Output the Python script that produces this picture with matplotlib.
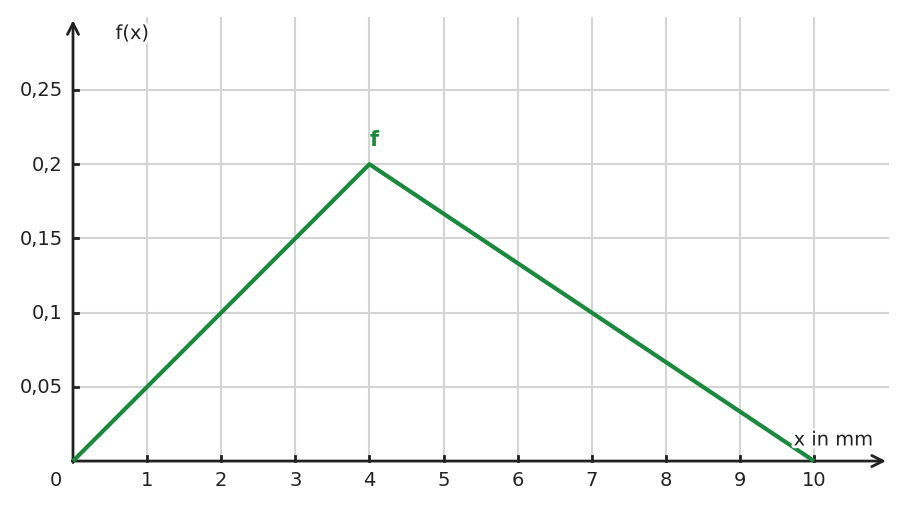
import matplotlib.pyplot as plt
import matplotlib.patheffects as pe

# triangular density f on [0, 10] with peak at 4
x_pts = [0, 4, 10]
f_vals = [0, 0.2, 0]
x_ticks = [1, 2, 3, 4, 5, 6, 7, 8, 9, 10]
y_ticks = [0.05, 0.1, 0.15, 0.2, 0.25]
y_labels = ["0,05", "0,1", "0,15", "0,2", "0,25"]

GREEN = "#178a3c"
DARK = "#222222"
GRID = "#d4d4d4"
FS = 14

plt.rcParams["font.family"] = ["DejaVu Sans"]

fig = plt.figure(figsize=(9.06, 5.10), dpi=100)
ax = fig.add_axes([0, 0, 1, 1])
ax.set_xlim(-0.985, 11.24)
ax.set_ylim(-0.0323, 0.3113)
ax.axis("off")

# grid
ax.vlines(x_ticks, 0, 0.2995, color=GRID, linewidth=1.5, zorder=1)
ax.hlines(y_ticks, 0, 11.01, color=GRID, linewidth=1.5, zorder=1)

# axes with arrows
ax.annotate("", xy=(10.97, 0), xytext=(-0.01, 0),
            arrowprops=dict(arrowstyle="->", color=DARK, lw=2.0,
                            mutation_scale=20, shrinkA=0, shrinkB=0), zorder=3)
ax.annotate("", xy=(0, 0.297), xytext=(0, -0.001),
            arrowprops=dict(arrowstyle="->", color=DARK, lw=2.0,
                            mutation_scale=20, shrinkA=0, shrinkB=0), zorder=3)

# ticks
for xt in x_ticks:
    ax.plot([xt, xt], [0, 0.0035], color=DARK, lw=2.0, zorder=3)
    ax.text(xt, -0.0125, str(xt), ha="center", va="center", fontsize=FS, color=DARK)
for yt, lab in zip(y_ticks, y_labels):
    ax.plot([0, 0.065], [yt, yt], color=DARK, lw=2.0, zorder=3)
    ax.text(-0.14, yt, lab, ha="right", va="center", fontsize=FS, color=DARK)
ax.text(-0.23, -0.0125, "0", ha="center", va="center", fontsize=FS, color=DARK)

# density
ax.plot(x_pts, f_vals, color=GREEN, lw=3.0, zorder=4, solid_capstyle="butt")
ax.text(4.06, 0.217, "f", ha="center", va="center", fontsize=15,
        fontweight="bold", color=GREEN, zorder=5)

# axis labels
halo = [pe.withStroke(linewidth=4, foreground="white")]
ax.text(0.80, 0.288, "f(x)", ha="center", va="center", fontsize=FS, color=DARK,
        path_effects=halo, zorder=5)
ax.text(10.26, 0.0142, "x in mm", ha="center", va="center", fontsize=FS, color=DARK,
        path_effects=halo, zorder=5)

fig.savefig("out.png", dpi=100)
